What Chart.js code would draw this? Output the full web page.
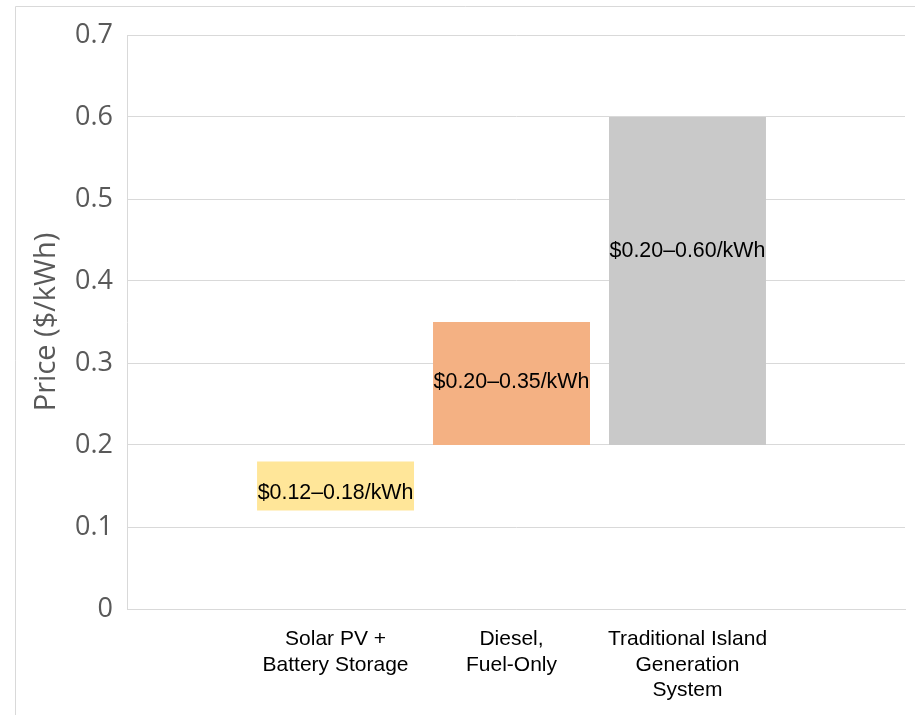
<!DOCTYPE html>
<html>
<head>
<meta charset="utf-8">
<title>Electricity price ranges</title>
<script src="https://cdn.jsdelivr.net/npm/chart.js@4/dist/chart.umd.min.js"></script>
<style>
  html, body { margin: 0; padding: 0; background: #ffffff; }
  #wrap { position: relative; width: 915px; height: 715px; }
</style>
</head>
<body>
<div id="wrap"><canvas id="chart" width="915" height="715"></canvas></div>
<script>
// Price ranges ($/kWh) for each generation option
const categories = [
  ['Solar PV +', 'Battery Storage'],
  ['Diesel,', 'Fuel-Only'],
  ['Traditional Island', 'Generation', 'System']
];
const priceLow  = [0.12, 0.20, 0.20];
const priceHigh = [0.18, 0.35, 0.60];
const rangeLabels = ['$0.12–0.18/kWh', '$0.20–0.35/kWh', '$0.20–0.60/kWh'];
const yTicks = [0, 0.1, 0.2, 0.3, 0.4, 0.5, 0.6, 0.7];

const barColors = ['#FFE699', '#F4B183', '#C9C9C9'];

// Light frame along the left and top edges of the figure
const framePlugin = {
  id: 'frame',
  beforeDraw(chart) {
    const ctx = chart.ctx;
    ctx.save();
    ctx.strokeStyle = '#d9d9d9';
    ctx.lineWidth = 1;
    ctx.beginPath();
    ctx.moveTo(15.5, chart.height);
    ctx.lineTo(15.5, 6.5);
    ctx.lineTo(chart.width, 6.5);
    ctx.stroke();
    ctx.restore();
  }
};

// Range text written inside each bar
const rangeTextPlugin = {
  id: 'rangeText',
  afterDatasetsDraw(chart, args, opts) {
    const ctx = chart.ctx;
    const meta = chart.getDatasetMeta(0);
    const yScale = chart.scales.y;
    ctx.save();
    ctx.font = '21.4px "Liberation Sans", Arial, sans-serif';
    ctx.fillStyle = '#000000';
    ctx.textAlign = 'center';
    ctx.textBaseline = 'middle';
    meta.data.forEach((bar, i) => {
      const y = yScale.getPixelForValue(opts.anchors[i]);
      ctx.fillText(rangeLabels[i], bar.x, y);
    });
    ctx.restore();
  }
};

const barData = categories.map((c, i) => ({ x: i + 1, y: [priceLow[i], priceHigh[i]] }));

new Chart(document.getElementById('chart'), {
  type: 'bar',
  data: {
    datasets: [{
      data: barData,
      backgroundColor: barColors,
      borderWidth: 0,
      categoryPercentage: 1,
      barPercentage: 0.892
    }]
  },
  options: {
    responsive: false,
    animation: false,
    layout: { padding: { left: 15, top: 35, right: 10, bottom: 0 } },
    plugins: {
      legend: { display: false },
      tooltip: { enabled: false },
      rangeText: { anchors: [0.141, 0.277, 0.437] }
    },
    scales: {
      x: {
        type: 'linear',
        offset: false,
        min: -0.185,
        max: 4.236,
        grid: { display: false, drawTicks: false, offset: false },
        border: { display: true, color: '#d9d9d9' },
        afterBuildTicks(scale) {
          scale.ticks = categories.map((c, i) => ({ value: i + 1 }));
        },
        afterFit(scale) { scale.height = 106; },
        ticks: {
          autoSkip: false,
          maxRotation: 0,
          minRotation: 0,
          padding: 18,
          color: '#000000',
          font: { family: '"Liberation Sans", Arial, sans-serif', size: 21, lineHeight: 1.2 },
          callback: (v) => categories[Math.round(v) - 1] || ''
        }
      },
      y: {
        min: 0,
        max: 0.7,
        afterBuildTicks(scale) {
          scale.ticks = yTicks.map(v => ({ value: v }));
        },
        afterFit(scale) { scale.width = 112; },
        grid: { color: '#d9d9d9', lineWidth: 1, drawTicks: false },
        border: { display: true, color: '#d9d9d9' },
        ticks: {
          padding: 14,
          color: '#595959',
          font: { family: '"Open Sans", sans-serif', size: 27 },
          callback: (v) => String(Number(v.toFixed(1)))
        },
        title: {
          display: true,
          text: 'Price ($/kWh)',
          color: '#595959',
          font: { family: '"Open Sans", sans-serif', size: 29 },
          padding: { top: 14, bottom: 0 }
        }
      }
    }
  },
  plugins: [framePlugin, rangeTextPlugin]
});
</script>
</body>
</html>
